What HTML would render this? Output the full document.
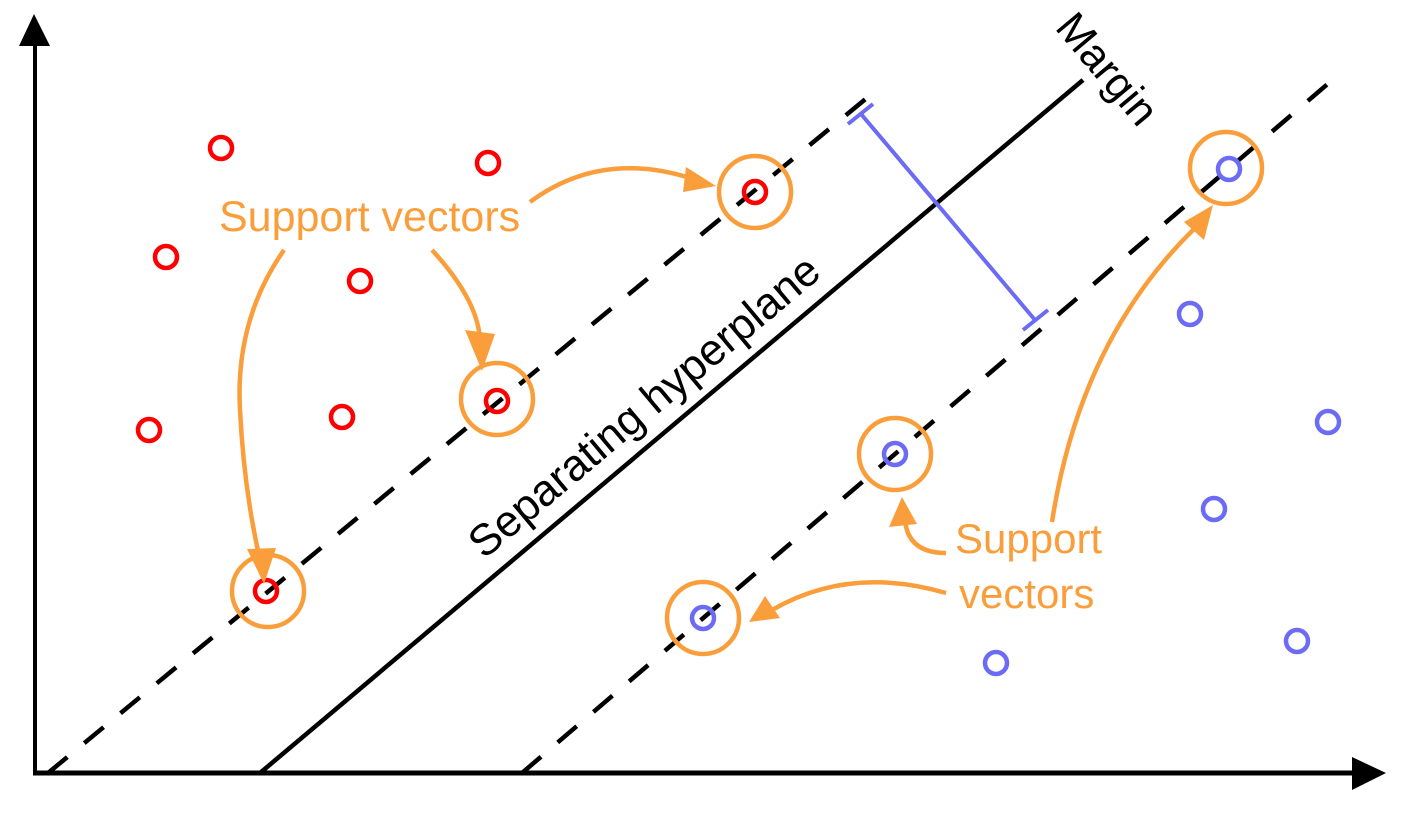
<!DOCTYPE html>
<html><head><meta charset="utf-8"><style>html,body{margin:0;padding:0;background:#fff}svg{display:block}</style></head>
<body>
<svg width="1401" height="817" viewBox="0 0 1401 817" xmlns="http://www.w3.org/2000/svg">
<!-- axes -->
<line x1="35" y1="775" x2="35" y2="44" stroke="#000" stroke-width="4"/>
<polygon points="34,14 19,46 50,46" fill="#000"/>
<line x1="33" y1="773" x2="1355" y2="773" stroke="#000" stroke-width="5"/>
<polygon points="1386,773 1352,757 1352,790" fill="#000"/>
<!-- lines -->
<line x1="260" y1="773" x2="1083" y2="80" stroke="#000" stroke-width="4.5"/>
<line x1="48" y1="773" x2="868" y2="97" stroke="#000" stroke-width="4.5" stroke-dasharray="25,22"/>
<line x1="522" y1="773" x2="1330" y2="82" stroke="#000" stroke-width="4.5" stroke-dasharray="25,22"/>
<!-- margin bar -->
<g stroke="#6b6bf5" stroke-width="4">
<line x1="861" y1="114" x2="1035" y2="320"/>
<line x1="848" y1="124" x2="873" y2="104"/>
<line x1="1023" y1="330" x2="1048" y2="310"/>
</g>
<text x="0" y="0" transform="translate(1054,28) rotate(50)" font-family="Liberation Sans, sans-serif" font-size="43" fill="#000">Margin</text>
<text x="0" y="0" transform="translate(484,560) rotate(-40)" font-family="Liberation Sans, sans-serif" font-size="44" fill="#000">Separating hyperplane</text>
<!-- red points -->
<g fill="none" stroke="#f00" stroke-width="4.5">
<circle cx="221" cy="148" r="11"/><circle cx="488" cy="163" r="11"/><circle cx="166" cy="257" r="11"/>
<circle cx="360" cy="281" r="11"/><circle cx="149" cy="430" r="11"/><circle cx="342" cy="417" r="11"/>
<circle cx="755" cy="192" r="11"/><circle cx="497" cy="401" r="11"/><circle cx="266" cy="591" r="11"/>
</g>
<!-- blue points -->
<g fill="none" stroke="#6b6bf5" stroke-width="4.5">
<circle cx="1229" cy="169" r="11"/><circle cx="895" cy="454" r="11"/><circle cx="703" cy="618" r="11"/>
<circle cx="1190" cy="314" r="11"/><circle cx="1328" cy="422" r="11"/><circle cx="1214" cy="509" r="11"/>
<circle cx="1297" cy="641" r="11"/><circle cx="996" cy="663" r="11"/>
</g>
<!-- orange rings -->
<g fill="none" stroke="#fa9e3c" stroke-width="4.5">
<circle cx="755" cy="192" r="36"/><circle cx="497" cy="399" r="36"/><circle cx="268" cy="591" r="36"/>
<circle cx="1226" cy="168" r="36"/><circle cx="895" cy="454" r="36"/><circle cx="703" cy="618" r="36"/>
</g>
<!-- arrows -->
<g fill="none" stroke="#fa9e3c" stroke-width="4.5">
<path d="M530,202 Q600,150 690,178"/>
<path d="M432,250 Q478,300 480,340"/>
<path d="M284,250 Q235,320 240,410 Q244,490 260,560"/>
<path d="M1052,522 Q1080,340 1195,228"/>
<path d="M946,553 Q908,553 905,520"/>
<path d="M946,593 Q850,565 772,610"/>
</g>
<g fill="#fa9e3c">
<polygon points="716,186 686,167 683,192"/>
<polygon points="482,371 465,330 495,334"/>
<polygon points="264,584 247,549 276,548"/>
<polygon points="1213,205 1184,222 1204,240"/>
<polygon points="902,497 889,527 917,524"/>
<polygon points="749,622 765,596 780,618"/>
</g>
<g font-family="Liberation Sans, sans-serif" font-size="43" fill="#fa9e3c">
<text x="219" y="231">Support vectors</text>
<text x="955" y="553" font-size="42">Support</text>
<text x="959" y="608" font-size="42">vectors</text>
</g>
</svg>
</body></html>
